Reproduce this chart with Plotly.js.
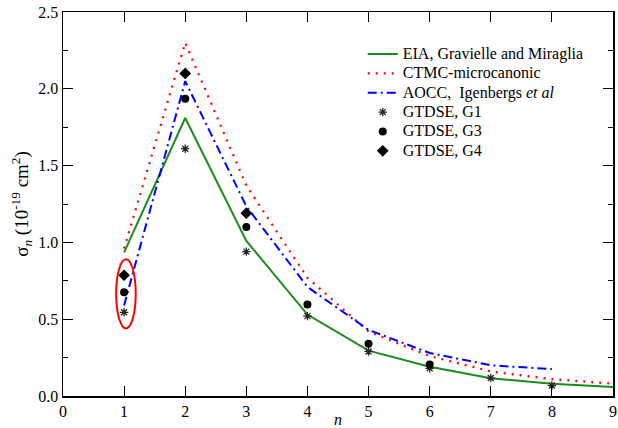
<!DOCTYPE html>
<html>
<head>
<meta charset="utf-8">
<script src="https://cdn.plot.ly/plotly-3.0.1.min.js"></script>
<style>html,body{margin:0;padding:0;background:#fff;}#chart{width:618px;height:428px;}</style>
</head>
<body>
<div id="chart"></div>
<script>
// ---- data ----
const nEIA = [1, 2, 3, 4, 5, 6, 7, 8, 9];
const sigmaEIA = [0.935, 1.81, 1.01, 0.53, 0.295, 0.19, 0.115, 0.08, 0.058];

const nCTMC = [1, 2, 3, 4, 5, 6, 7, 8, 9];
const sigmaCTMC = [0.96, 2.30, 1.37, 0.77, 0.42, 0.26, 0.16, 0.11, 0.08];

const nAOCC = [1, 2, 3, 4, 5, 6, 7, 8];
const sigmaAOCC = [0.59, 2.05, 1.235, 0.71, 0.43, 0.28, 0.20, 0.175];

const nG1 = [1, 2, 3, 4, 5, 6, 7, 8];
const sigmaG1 = [0.545, 1.61, 0.94, 0.52, 0.29, 0.18, 0.117, 0.068];

const nG3 = [1, 2, 3, 4, 5, 6];
const sigmaG3 = [0.675, 1.935, 1.10, 0.595, 0.34, 0.205];

const nG4 = [1, 2, 3];
const sigmaG4 = [0.786, 2.10, 1.19];

const legendNames = [
  'EIA, Gravielle and Miraglia',
  'CTMC-microcanonic',
  'AOCC,  Igenbergs <i>et al</i>',
  'GTDSE, G1',
  'GTDSE, G3',
  'GTDSE, G4'
];
const xTicks = [0, 1, 2, 3, 4, 5, 6, 7, 8, 9];
const yTicks = [0.0, 0.5, 1.0, 1.5, 2.0, 2.5];
const highlightN = 1;

const FONT = '"Liberation Serif", "Times New Roman", Times, serif';
const bigText = s => '<span style="font-size:16px">' + s + '</span>';

const traces = [
  {x: nEIA, y: sigmaEIA, name: bigText(legendNames[0]), mode: 'lines',
   line: {color: '#1a8c1a', width: 2}},
  {x: nCTMC, y: sigmaCTMC, name: bigText(legendNames[1]), mode: 'lines',
   line: {color: '#ff0000', width: 2.2, dash: '2px,6px'}},
  {x: nAOCC, y: sigmaAOCC, name: bigText(legendNames[2]), mode: 'lines',
   line: {color: '#0000ff', width: 2, dash: '9px,4px,2px,4px'}},
  {x: nG1, y: sigmaG1, name: bigText(legendNames[3]), mode: 'markers',
   marker: {symbol: 'asterisk-open', size: 7, color: '#222', line: {color: '#222', width: 1.3}}},
  {x: nG3, y: sigmaG3, name: bigText(legendNames[4]), mode: 'markers',
   marker: {symbol: 'circle', size: 8, color: '#000'}},
  {x: nG4, y: sigmaG4, name: bigText(legendNames[5]), mode: 'markers',
   marker: {symbol: 'diamond', size: 9, color: '#000'}}
];

// ellipse around the n = 1 GTDSE points
const n1Vals = [sigmaG1[0], sigmaG3[0], sigmaG4[0]];
const ellipse = {
  type: 'circle', xref: 'x', yref: 'y',
  x0: highlightN - 0.13, x1: highlightN + 0.19,
  y0: Math.min(...n1Vals) - 0.105, y1: Math.max(...n1Vals) + 0.105,
  line: {color: '#ff0000', width: 2}
};

const axisCommon = {
  showline: true, linecolor: '#000', linewidth: 1.5, mirror: 'allticks',
  ticks: 'inside', ticklen: 10, tickwidth: 1, tickcolor: '#000',
  showgrid: false, zeroline: false,
  tickfont: {family: FONT, size: 16, color: '#000'}
};

const layout = {
  width: 618, height: 428,
  margin: {l: 63, r: 5, t: 12, b: 32},
  paper_bgcolor: '#fff', plot_bgcolor: '#fff',
  font: {family: FONT, size: 16, color: '#000'},
  showlegend: true,
  legend: {x: 0.545, xanchor: 'left', y: 0.929, yanchor: 'top',
           bgcolor: 'rgba(0,0,0,0)', font: {family: FONT, size: 12.6, color: '#000'},
           tracegroupgap: 0, itemwidth: 30},
  xaxis: Object.assign({}, axisCommon, {
    range: [0, 9], tickvals: xTicks, ticktext: xTicks.map(String),
    title: {text: '<i>n</i>', font: {family: FONT, size: 16}, standoff: 0}
  }),
  yaxis: Object.assign({}, axisCommon, {
    range: [0, 2.5], tickvals: yTicks, ticktext: yTicks.map(v => v.toFixed(1)),
    minor: {dtick: 0.25, tick0: 0, ticks: 'inside', ticklen: 5, tickcolor: '#000', tickwidth: 1, showgrid: false},
    title: {text: 'σ<sub><i>n</i></sub> (10<sup>-19</sup> cm<sup>2</sup>)', font: {family: FONT, size: 19}, standoff: 4}
  }),
  shapes: [ellipse]
};

Plotly.newPlot('chart', traces, layout, {staticPlot: true});
</script>
</body>
</html>
